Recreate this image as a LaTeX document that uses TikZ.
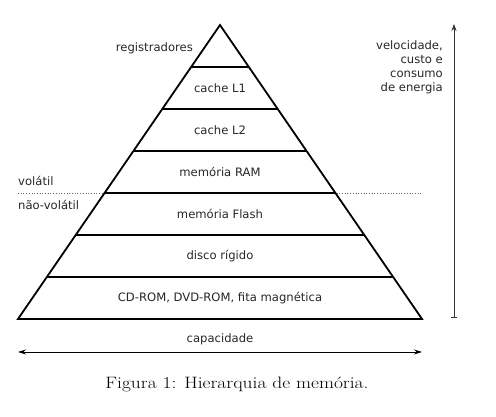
\documentclass[tikz,border=0pt]{standalone}
\usepackage{fontspec}
\setsansfont{DejaVu Sans}
\usetikzlibrary{arrows.meta, positioning}

\begin{document}
\begin{tikzpicture}[
  x=1pt, y=1pt,
  lvl/.style={font=\sffamily\fontsize{11.6}{14.3}\selectfont, text=black!85, inner sep=0pt},
  figcap/.style={font=\fontsize{16.5}{19}\selectfont, inner sep=0pt},
  rim/.style={line width=1.8pt, line join=miter},
  sep/.style={line width=1.1pt}
]
  \useasboundingbox (0,0) rectangle (496,416);

  % pyramid corners
  \coordinate (apex) at (220,391);
  \coordinate (bl) at (18,97);
  \coordinate (br) at (422,97);

  % volatile / non-volatile boundary
  \coordinate (vl) at (18,223);
  \coordinate (vr) at (421,223);
  \draw[black!60, dotted, line width=0.7pt] (vl) -- (vr);
  \node[lvl, anchor=south west] (vol) at (18,230) {volátil};
  \node[lvl, anchor=north west] (nvol) at (18,216) {não-volátil};

  % level separators
  \foreach \i in {1,...,6}
    \draw[sep] ({220-\i*202/7},{391-42*\i}) -- ({220+\i*202/7},{391-42*\i});
  \draw[rim] (bl) -- (apex) -- (br) -- cycle;

  % level labels
  \node[lvl, anchor=east] (reg) at (193,368) {registradores};
  \node[lvl] (l1) at (220,328) {cache L1};
  \node[lvl] (l2) at (220,286) {cache L2};
  \node[lvl] (ram) at (220,244) {memória RAM};
  \node[lvl] (flash) at (220,202) {memória Flash};
  \node[lvl] (hd) at (220,160) {disco rígido};
  \node[lvl] (rom) at (220,118) {CD-ROM, DVD-ROM, fita magnética};

  % speed axis
  \coordinate (sbot) at (454,98);
  \coordinate (stop) at (454,392);
  \draw[black!80, line width=0.8pt, {Bar[width=6pt]}-{Stealth[length=7pt, width=5pt]}] (sbot) -- (stop);
  \node[lvl, anchor=north east, align=right] (speed) at (443,376)
    {velocidade,\\custo e\\consumo\\de energia};

  % capacity axis
  \coordinate (cl) at (18,64);
  \coordinate (cr) at (422,64);
  \draw[line width=0.8pt, {Stealth[length=8pt, width=5pt]}-{Stealth[length=8pt, width=5pt]}] (cl) -- (cr);
  \node[lvl] (capac) at (220,77) {capacidade};

  \node[figcap] (caption) at (237,32) {\scalebox{1.18}[1]{Figura 1: Hierarquia de memória.}};
\end{tikzpicture}
\end{document}
